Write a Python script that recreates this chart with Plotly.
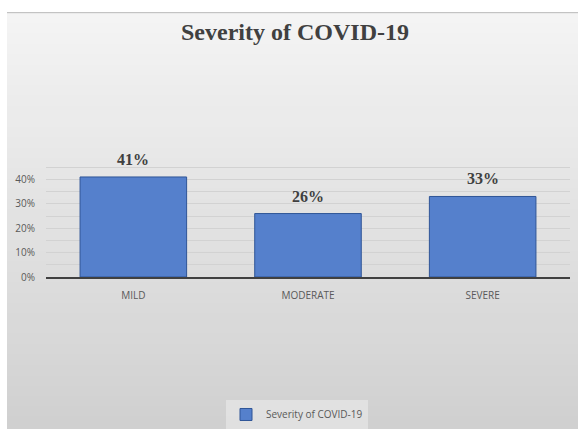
import plotly.graph_objects as go

categories = ["MILD", "MODERATE", "SEVERE"]
values = [41, 26, 33]
labels = ["41%", "26%", "33%"]
series_name = "Severity of COVID-19"
tick_vals = [0, 10, 20, 30, 40]
tick_text = ["0%", "10%", "20%", "30%", "40%"]

W, H = 578, 436
ML, MR, MT, MB = 46, 8, 155, 155
pw = W - ML - MR
ph = H - MT - MB

fig = go.Figure()
fig.add_trace(go.Bar(
    x=categories, y=values, name=series_name,
    marker=dict(color="#5580cc", line=dict(color="#2f5597", width=1)),
    showlegend=True,
))

for c, v, t in zip(categories, values, labels):
    fig.add_annotation(x=c, y=v, text="<b>%s</b>" % t, showarrow=False,
                       yanchor="bottom", yshift=7,
                       font=dict(family="Liberation Serif", size=16, color="#404040"))


def px_to_paper_x(px):
    return (px - ML) / pw


def px_to_paper_y(py):
    return (H - MB - py) / ph


top_col = (244, 244, 244)
bot_col = (208, 208, 208)
n = 40
y0, y1 = 8, H
shapes = []
for i in range(n):
    a = y0 + (y1 - y0) * i / n
    b = y0 + (y1 - y0) * (i + 1) / n + 3
    f = (i + 0.5) / n
    col = tuple(int(round(top_col[k] + (bot_col[k] - top_col[k]) * f)) for k in range(3))
    shapes.append(dict(type="rect", xref="paper", yref="paper",
                       x0=px_to_paper_x(7), x1=px_to_paper_x(W + 2),
                       y0=px_to_paper_y(min(b, H + 2)), y1=px_to_paper_y(a),
                       fillcolor="rgb(%d,%d,%d)" % col, line=dict(width=0),
                       layer="below"))
shapes.append(dict(type="line", xref="paper", yref="paper",
                   x0=px_to_paper_x(7), x1=px_to_paper_x(W + 2),
                   y0=px_to_paper_y(8), y1=px_to_paper_y(8),
                   line=dict(color="#b8b8b8", width=1), layer="below"))

fig.update_layout(
    width=W, height=H,
    margin=dict(l=ML, r=MR, t=MT, b=MB),
    paper_bgcolor="white",
    plot_bgcolor="rgba(0,0,0,0)",
    shapes=shapes,
    bargap=0.39,
    title=dict(text="<b>Severity of COVID-19</b>", x=295 / W, xanchor="center",
               y=1 - 32 / H, yanchor="middle",
               font=dict(family="Liberation Serif", size=24, color="#404040")),
    showlegend=True,
    legend=dict(orientation="h", x=px_to_paper_x(297), xanchor="center",
                y=px_to_paper_y(423), yanchor="middle",
                bgcolor="rgba(235,235,235,0.6)",
                font=dict(family="Open Sans", size=10, color="#595959"),
                itemwidth=30),
    xaxis=dict(showgrid=False, showline=True, linecolor="#404040", linewidth=2,
               ticks="", ticklabelstandoff=8,
               tickfont=dict(family="Open Sans", size=10, color="#595959")),
    yaxis=dict(range=[0, 50], tickvals=tick_vals, ticktext=tick_text,
               showgrid=True, gridcolor="#d2d2d2", gridwidth=1,
               minor=dict(dtick=5, showgrid=True, gridcolor="#d2d2d2"),
               zeroline=False, showline=False, ticks="", ticklabelstandoff=10,
               tickfont=dict(family="Open Sans", size=10, color="#595959")),
)

fig.write_html("out.html")
